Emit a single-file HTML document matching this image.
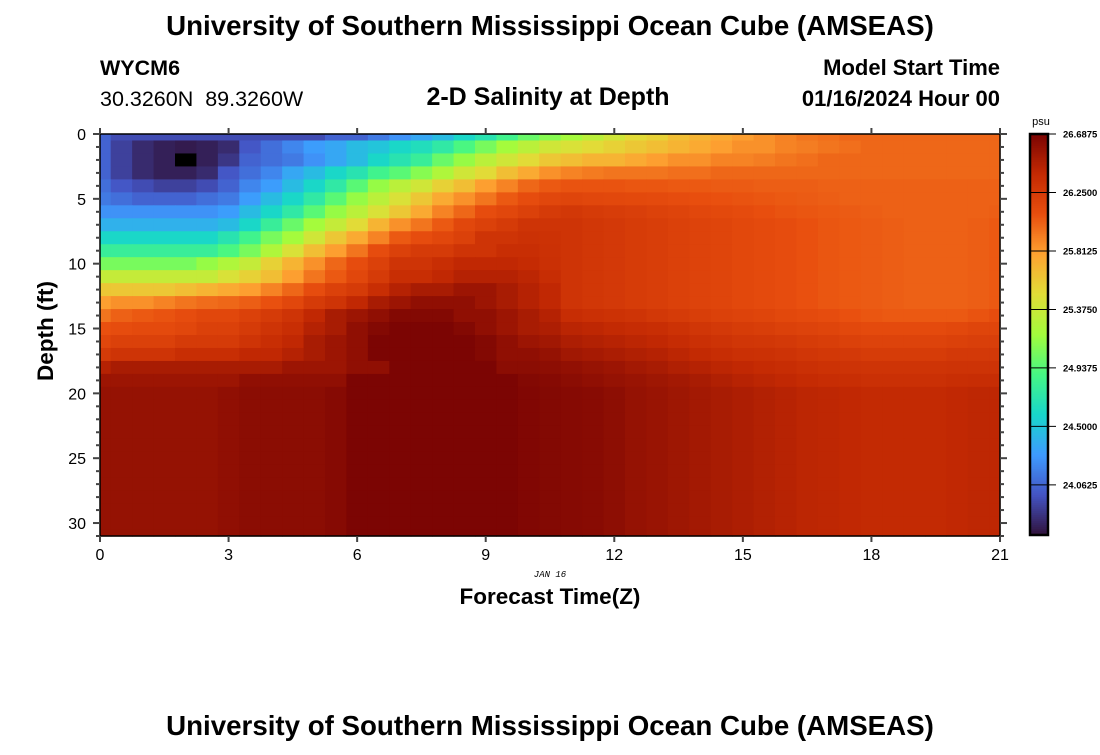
<!DOCTYPE html>
<html><head><meta charset="utf-8"><style>
html,body{margin:0;padding:0;background:#fff;}
body{width:1100px;height:750px;overflow:hidden;font-family:"Liberation Sans",sans-serif;}
svg text{font-family:"Liberation Sans",sans-serif;}
</style></head><body>
<svg id="chart" width="1100" height="750" xmlns="http://www.w3.org/2000/svg">
<text x="550" y="35" text-anchor="middle" font-size="27.7" font-weight="bold">University of Southern Mississippi Ocean Cube (AMSEAS)</text>
<text x="100" y="75" font-size="21.5" font-weight="bold">WYCM6</text>
<text x="100" y="106" font-size="21.5">30.3260N&#160; 89.3260W</text>
<text x="548" y="105" text-anchor="middle" font-size="25" font-weight="bold">2-D Salinity at Depth</text>
<text x="1000" y="75" text-anchor="end" font-size="22" font-weight="bold">Model Start Time</text>
<text x="1000" y="106" text-anchor="end" font-size="22" font-weight="bold">01/16/2024 Hour 00</text>
<text transform="translate(53,331) rotate(-90)" text-anchor="middle" font-size="22.5" font-weight="bold">Depth (ft)</text>
<text x="550" y="577" text-anchor="middle" font-size="9" font-style="italic" style="font-family:'Liberation Mono',monospace">JAN 16</text>
<text x="550" y="604" text-anchor="middle" font-size="22.5" font-weight="bold">Forecast Time(Z)</text>
<text x="1041" y="125" text-anchor="middle" font-size="11">psu</text>
<text x="550" y="735" text-anchor="middle" font-size="27.7" font-weight="bold">University of Southern Mississippi Ocean Cube (AMSEAS)</text>
<g id="cells"></g>
<g id="cbar"></g>
<g id="axes"></g>
</svg>
<script>
const hours = [0,0.5,1,1.5,2,2.5,3,3.5,4,4.5,5,5.5,6,6.5,7,7.5,8,8.5,9,9.5,10,10.5,11,11.5,12,12.5,13,13.5,14,14.5,15,15.5,16,16.5,17,17.5,18,18.5,19,19.5,20,20.5,21];
const depths = [0,1,2,3,4,5,6,7,8,9,10,11,12,13,14,15,16,17,18,19,20,21,22,23,24,25,26,27,28,29,30,31];
const xTicks = [0,3,6,9,12,15,18,21];
const yTicks = [0,5,10,15,20,25,30];
const cbarTicks = ["26.6875","26.2500","25.8125","25.3750","24.9375","24.5000","24.0625"];
const cbarTickValues = [26.6875,26.25,25.8125,25.375,24.9375,24.5,24.0625];
const TM=[26.3,26.28,26.26,26.24,26.22,26.2,26.18,26.16,26.14,26.12,26.1,26.08,26.06,26.05,26.04,26.03,26.02,26.02,26.02,26.03,26.05];
const R0=[24.05,23.95,23.95,23.95,23.95,23.95,23.95,23.95,23.95,23.95,23.95,24.05,24.05,24.15,24.25,24.35,24.45,24.6,24.7,24.85,25.0,25.1,25.2,25.3,25.4,25.5,25.55,25.65,25.7,25.75,25.8,25.85,25.9,25.95,25.97,26.0,26.0,26.0,26.0,26.0,26.0,26.0,26.0];
const R1=[24.05,23.9,23.8,23.75,23.73,23.75,23.8,24.0,24.1,24.2,24.3,24.35,24.45,24.5,24.6,24.65,24.75,24.9,25.05,25.2,25.3,25.4,25.45,25.5,25.55,25.6,25.65,25.7,25.75,25.8,25.85,25.85,25.9,25.92,25.95,25.97,26.0,26.0,26.0,26.0,26.0,26.0,26.0];
const R2=[24.05,23.9,23.8,23.75,23.6,23.75,23.85,24.05,24.1,24.15,24.25,24.35,24.45,24.6,24.7,24.8,25.0,25.15,25.3,25.4,25.5,25.6,25.65,25.7,25.7,25.75,25.8,25.85,25.85,25.9,25.9,25.92,25.95,25.97,26.0,26.0,26.0,26.0,26.0,26.0,26.0,26.0,26.0];
const R3=[24.05,23.9,23.8,23.75,23.75,23.8,24.0,24.1,24.2,24.35,24.45,24.6,24.7,24.85,24.95,25.1,25.25,25.4,25.5,25.65,25.75,25.85,25.9,25.93,25.95,25.95,25.95,25.97,25.97,26.0,26.0,26.0,26.0,26.0,26.0,26.0,26.0,26.0,26.0,26.0,26.0,26.0,26.0];
const R4=[24.1,24.0,23.95,23.9,23.9,23.95,24.05,24.2,24.3,24.45,24.6,24.75,24.95,25.15,25.3,25.4,25.55,25.65,25.8,25.9,26.0,26.05,26.07,26.07,26.07,26.06,26.06,26.05,26.05,26.04,26.04,26.03,26.03,26.03,26.02,26.02,26.02,26.02,26.02,26.02,26.02,26.02,26.02];
const R5=[24.15,24.1,24.05,24.05,24.05,24.1,24.15,24.3,24.45,24.6,24.75,24.95,25.15,25.3,25.45,25.6,25.75,25.85,25.95,26.05,26.1,26.15,26.16,26.15,26.14,26.13,26.12,26.1,26.09,26.08,26.07,26.06,26.05,26.04,26.03,26.02,26.02,26.02,26.02,26.02,26.02,26.02,26.02];
const R6=[24.25,24.25,24.25,24.25,24.25,24.25,24.3,24.45,24.6,24.75,24.95,25.15,25.3,25.45,25.6,25.75,25.9,26.0,26.1,26.15,26.2,26.25,26.27,26.25,26.23,26.21,26.19,26.17,26.15,26.13,26.11,26.09,26.07,26.06,26.05,26.04,26.03,26.02,26.02,26.02,26.02,26.02,26.03];
const R7=[24.4,24.4,24.4,24.4,24.4,24.4,24.45,24.6,24.8,25.0,25.2,25.35,25.5,25.7,25.85,25.95,26.05,26.15,26.2,26.25,26.3,26.3].concat(TM);
const R8=[24.6,24.6,24.6,24.6,24.6,24.6,24.7,24.85,25.05,25.2,25.4,25.6,25.75,25.9,26.05,26.1,26.15,26.2,26.3,26.3,26.33,26.32].concat(TM);
const R9=[24.8,24.8,24.8,24.8,24.8,24.8,24.9,25.05,25.25,25.45,25.65,25.8,25.95,26.1,26.2,26.25,26.25,26.3,26.3,26.35,26.35,26.33].concat(TM);
const R10=[25.05,25.05,25.05,25.05,25.05,25.15,25.25,25.35,25.55,25.7,25.85,26.0,26.1,26.2,26.3,26.3,26.35,26.4,26.4,26.4,26.38,26.34].concat(TM);
const R11=[25.35,25.35,25.35,25.35,25.35,25.35,25.45,25.55,25.65,25.8,25.95,26.05,26.15,26.25,26.35,26.35,26.4,26.45,26.45,26.45,26.42,26.36].concat(TM);
const R12=[25.6,25.6,25.6,25.6,25.65,25.7,25.75,25.8,25.9,26.0,26.1,26.2,26.25,26.35,26.45,26.5,26.5,26.55,26.55,26.5,26.45,26.4].concat(TM);
const R13=[25.8,25.85,25.85,25.9,25.95,25.98,26.0,26.03,26.08,26.15,26.25,26.3,26.4,26.5,26.55,26.6,26.6,26.6,26.55,26.5,26.45,26.4].concat(TM);
const R14=[25.95,26.02,26.05,26.07,26.1,26.15,26.15,26.2,26.25,26.3,26.4,26.5,26.55,26.6,26.65,26.65,26.65,26.6,26.6,26.55,26.5,26.45,26.36,26.34,26.32,26.3,26.27,26.25,26.22,26.2,26.18,26.16,26.14,26.12,26.1,26.08,26.06,26.05,26.05,26.05,26.05,26.07,26.1];
const R15=[26.08,26.1,26.12,26.12,26.15,26.2,26.2,26.25,26.3,26.35,26.45,26.5,26.6,26.65,26.68,26.68,26.68,26.65,26.6,26.55,26.5,26.48,26.43,26.41,26.39,26.37,26.35,26.32,26.29,26.26,26.24,26.22,26.2,26.18,26.16,26.14,26.12,26.12,26.12,26.12,26.14,26.16,26.16];
const R16=[26.15,26.2,26.2,26.2,26.25,26.25,26.25,26.3,26.35,26.4,26.5,26.55,26.6,26.68,26.68,26.68,26.68,26.68,26.65,26.6,26.55,26.53,26.48,26.46,26.44,26.42,26.4,26.37,26.34,26.31,26.29,26.28,26.26,26.24,26.22,26.2,26.18,26.18,26.18,26.18,26.2,26.21,26.21];
const R17=[26.25,26.3,26.3,26.3,26.35,26.35,26.35,26.4,26.4,26.45,26.5,26.55,26.6,26.68,26.68,26.68,26.68,26.68,26.65,26.6,26.6,26.58,26.53,26.51,26.49,26.47,26.45,26.42,26.39,26.36,26.34,26.33,26.31,26.29,26.27,26.26,26.24,26.24,26.24,26.24,26.26,26.26,26.26];
const R18=[26.45,26.5,26.5,26.5,26.5,26.5,26.5,26.5,26.5,26.55,26.55,26.55,26.6,26.6,26.68,26.68,26.68,26.68,26.68,26.62,26.62,26.61,26.59,26.57,26.55,26.52,26.5,26.47,26.45,26.42,26.4,26.38,26.36,26.34,26.32,26.31,26.3,26.3,26.3,26.3,26.31,26.31,26.31];
const R19=[26.55,26.55,26.55,26.55,26.55,26.55,26.55,26.6,26.6,26.6,26.6,26.6,26.68,26.68,26.68,26.68,26.68,26.68,26.68,26.68,26.65,26.64,26.62,26.6,26.58,26.56,26.54,26.52,26.5,26.47,26.44,26.42,26.4,26.38,26.36,26.35,26.34,26.34,26.34,26.34,26.35,26.36,26.36];
const RD=[26.58,26.58,26.58,26.58,26.58,26.58,26.6,26.62,26.62,26.62,26.62,26.64,26.68,26.68,26.68,26.68,26.68,26.68,26.68,26.68,26.66,26.65,26.64,26.63,26.61,26.58,26.56,26.54,26.52,26.5,26.48,26.46,26.44,26.42,26.41,26.4,26.39,26.39,26.39,26.39,26.4,26.41,26.41];
const salinity=[R0,R1,R2,R3,R4,R5,R6,R7,R8,R9,R10,R11,R12,R13,R14,R15,R16,R17,R18,R19,RD,RD,RD,RD,RD,RD,RD,RD,RD,RD,RD,RD];

const NS='http://www.w3.org/2000/svg';
const X0=100,X1=1000,Y0=134,Y1=536,HMAX=21,DMAX=31;
const CMIN=23.6875,CMAX=26.6875;
function xs(h){return X0+(h/HMAX)*(X1-X0);}
function ys(d){return Y0+(d/DMAX)*(Y1-Y0);}
const TURBO=[[48,18,59],[68,84,196],[62,155,254],[24,214,203],[70,247,132],[162,252,60],[225,221,55],[254,163,49],[232,78,14],[196,42,3],[122,4,3]];
function turbo(t){
  t=Math.max(0,Math.min(1,t));
  const p=t*(TURBO.length-1), i=Math.min(TURBO.length-2,Math.floor(p)), f=p-i;
  const a=TURBO[i], b=TURBO[i+1];
  return 'rgb('+Math.round(a[0]+(b[0]-a[0])*f)+','+Math.round(a[1]+(b[1]-a[1])*f)+','+Math.round(a[2]+(b[2]-a[2])*f)+')';
}
function color(v){ if(v<CMIN) return '#000'; return turbo((v-CMIN)/(CMAX-CMIN)); }
function mk(tag,attrs,parent){const e=document.createElementNS(NS,tag);for(const k in attrs)e.setAttribute(k,attrs[k]);parent.appendChild(e);return e;}

const cells=document.getElementById('cells');
const dh=0.5, dd=1;
for(let r=0;r<depths.length;r++){
  for(let c=0;c<hours.length;c++){
    const xa=Math.max(X0,xs(hours[c]-dh/2)), xb=Math.min(X1,xs(hours[c]+dh/2));
    const ya=Math.max(Y0,ys(depths[r]-dd/2)), yb=Math.min(Y1,ys(depths[r]+dd/2));
    if(yb<=ya||xb<=xa) continue;
    const rc=mk('rect',{x:xa.toFixed(2),y:ya.toFixed(2),width:(xb-xa+0.6).toFixed(2),height:(yb-ya+0.6).toFixed(2),fill:color(salinity[r][c])},cells);
    
    
  }
}

const ax=document.getElementById('axes');
mk('line',{x1:X0,y1:Y0,x2:X1,y2:Y0,stroke:'#000','stroke-width':1.5},ax);
mk('line',{x1:X0,y1:Y1,x2:X1,y2:Y1,stroke:'#000','stroke-width':1.5},ax);
mk('line',{x1:X0,y1:Y0,x2:X0,y2:Y1,stroke:'#000','stroke-width':1.5},ax);
mk('line',{x1:X1,y1:Y0,x2:X1,y2:Y1,stroke:'#000','stroke-width':1.5},ax);
for(const h of xTicks){
  const x=xs(h);
  mk('line',{x1:x,y1:Y0,x2:x,y2:Y0-6,stroke:'#444','stroke-width':2},ax);
  mk('line',{x1:x,y1:Y1,x2:x,y2:Y1+6,stroke:'#444','stroke-width':2},ax);
  const t=mk('text',{x:x,y:Y1+24,'text-anchor':'middle','font-size':16},ax);
  t.textContent=h;
  
  
}
for(let d=0;d<=DMAX;d++){
  const y=ys(d), major=(d%5===0);
  mk('line',{x1:X0,y1:y,x2:X0-(major?7:4),y2:y,stroke:'#444','stroke-width':2},ax);
  mk('line',{x1:X1,y1:y,x2:X1+(major?7:4),y2:y,stroke:'#444','stroke-width':2},ax);
}
for(const d of yTicks){
  const t=mk('text',{x:X0-14,y:ys(d)+6,'text-anchor':'end','font-size':16},ax);
  t.textContent=d;
  
  
}

const cb=document.getElementById('cbar');
const CX=1030,CW=18,CY0=134,CY1=535;
const N=200;
for(let i=0;i<N;i++){
  const v=CMAX-(i+0.5)/N*(CMAX-CMIN);
  mk('rect',{x:CX,y:(CY0+i*(CY1-CY0)/N).toFixed(2),width:CW,height:((CY1-CY0)/N+0.5).toFixed(2),fill:turbo((v-CMIN)/(CMAX-CMIN))},cb);
}
mk('rect',{x:CX,y:CY0,width:CW,height:CY1-CY0,fill:'none',stroke:'#000','stroke-width':2.5},cb);
function cy(v){return CY0+(CMAX-v)/(CMAX-CMIN)*(CY1-CY0);}
for(let i=0;i<cbarTickValues.length;i++){
  const y=cy(cbarTickValues[i]);
  mk('line',{x1:CX,y1:y,x2:CX+CW+8,y2:y,stroke:'#000','stroke-width':1},cb);
  const t=mk('text',{x:CX+CW+15,y:y+3.5,'font-size':9.5,'font-weight':'bold'},cb);
  t.textContent=cbarTicks[i];
  
  
}
</script>
</body></html>
